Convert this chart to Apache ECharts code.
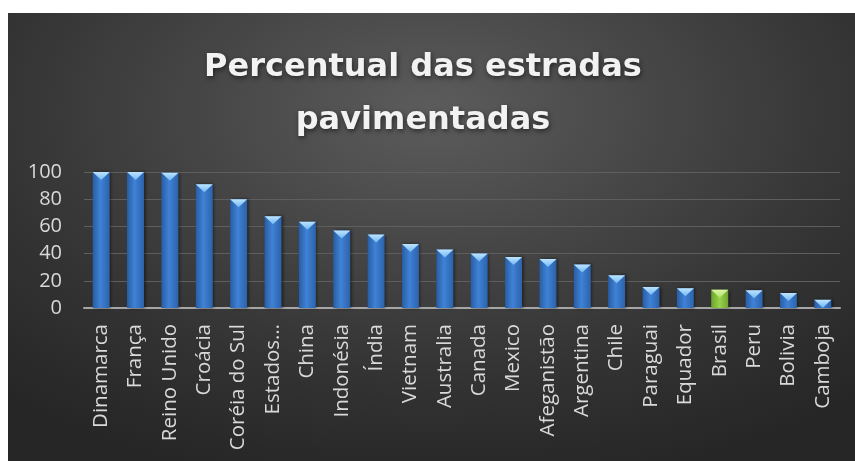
<!DOCTYPE html>
<html>
<head>
<meta charset="utf-8">
<script src="https://cdn.jsdelivr.net/npm/echarts@6/dist/echarts.min.js"></script>
<style>
html,body{margin:0;padding:0;background:#ffffff;width:855px;height:461px;overflow:hidden;}
#chart{position:absolute;left:8px;top:13px;width:847px;height:448px;
background:radial-gradient(ellipse 75% 85% at 50% 22%, #5c5c5c 0%, #474747 35%, #333333 70%, #262626 100%);}
</style>
</head>
<body>
<div id="chart"></div>
<script>
const categories = ['Dinamarca','França','Reino Unido','Croácia','Coréia do Sul','Estados Unidos','China','Indonésia','Índia','Vietnam','Australia','Canada','Mexico','Afeganistão','Argentina','Chile','Paraguai','Equador','Brasil','Peru','Bolivia','Camboja'];
const values = [100,100,99.5,91,80,67.5,63.5,57,54,47,43,40,37.5,36,32,24,15.5,14.5,13.5,13,11,6];
const yTicks = [0,20,40,60,80,100];
const highlighted = 'Brasil';

const chart = echarts.init(document.getElementById('chart'), null, {renderer:'canvas'});

function bodyColor(name){
  if(name === highlighted){
    return new echarts.graphic.LinearGradient(0,0,1,0,[
      {offset:0,color:'#6fa52c'},{offset:0.5,color:'#96d34a'},{offset:1,color:'#72a332'}]);
  }
  return new echarts.graphic.LinearGradient(0,0,1,0,[
    {offset:0,color:'#285da3'},{offset:0.45,color:'#3f82d6'},{offset:1,color:'#2c62aa'}]);
}
function capColor(name){
  if(name === highlighted){
    return new echarts.graphic.LinearGradient(0,0,0,1,[
      {offset:0,color:'#daf3a8'},{offset:1,color:'#ade466'}]);
  }
  return new echarts.graphic.LinearGradient(0,0,0,1,[
    {offset:0,color:'#bde4ff'},{offset:1,color:'#72b8f5'}]);
}

chart.setOption({
  animation:false,
  title:{
    text:'Percentual das estradas\npavimentadas',
    left:410, top:23, textAlign:'center',
    textStyle:{
      fontFamily:'DejaVu Sans', fontWeight:'bold', fontSize:32, lineHeight:53,
      color:'#f2f2f2', textShadowColor:'rgba(0,0,0,0.55)', textShadowBlur:5,
      textShadowOffsetX:1, textShadowOffsetY:2
    }
  },
  grid:{left:76, right:15, top:159, bottom:153, containLabel:false},
  xAxis:{
    type:'category', data:categories,
    axisLine:{show:true, lineStyle:{color:'#a6a6a6', width:2}},
    axisTick:{show:false},
    axisLabel:{
      rotate:90, interval:0, margin:16, color:'#d9d9d9',
      fontFamily:'Open Sans', fontSize:20.5,
      formatter:function(v){ return v.length > 13 ? v.split(' ')[0] + '…' : v; }
    }
  },
  yAxis:{
    type:'value', min:0, max:100, interval:20,
    axisLine:{show:false}, axisTick:{show:false},
    splitLine:{lineStyle:{color:'#5e5e5e', width:1}},
    axisLabel:{
      margin:22, color:'#d9d9d9', fontFamily:'Open Sans', fontSize:20,
      formatter:function(v){ return yTicks.indexOf(v) >= 0 ? String(v) : ''; }
    }
  },
  series:[
    {
      type:'bar', barWidth:17, barGap:'-100%',
      data:values.map(function(v,i){
        return {value:v, itemStyle:{color:bodyColor(categories[i])}};
      }),
      itemStyle:{shadowColor:'rgba(0,0,0,0.55)', shadowBlur:3, shadowOffsetX:1.5, shadowOffsetY:0}
    },
    {
      type:'pictorialBar', barWidth:17, barGap:'-100%',
      symbol:'path://M0,0 L20,0 L10,8 Z',
      symbolSize:[17,8], symbolPosition:'end', symbolOffset:[0,0],
      z:3,
      data:values.map(function(v,i){
        return {value:v, itemStyle:{color:capColor(categories[i])}};
      })
    }
  ]
});
</script>
</body>
</html>
